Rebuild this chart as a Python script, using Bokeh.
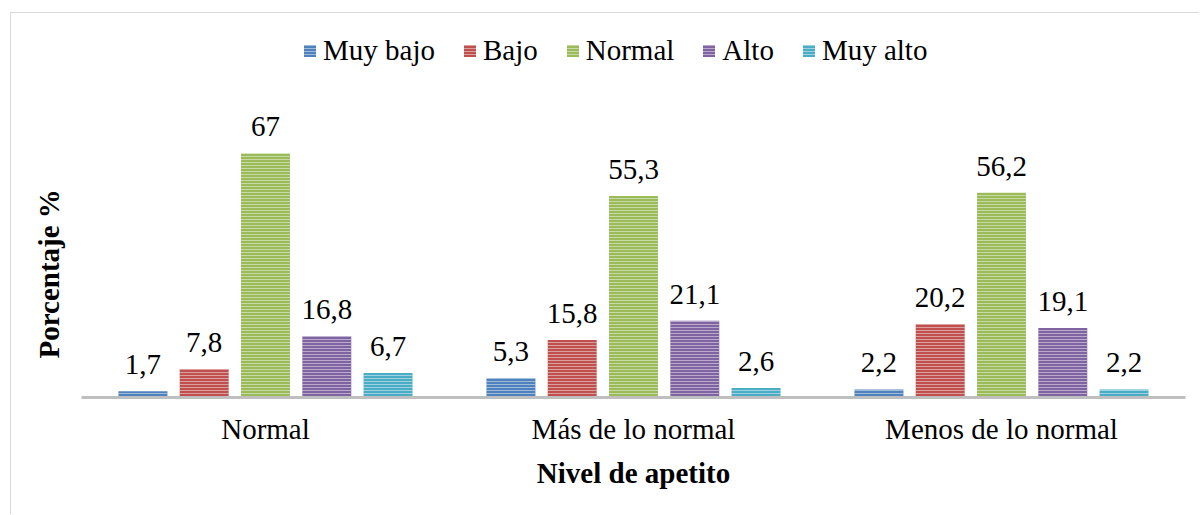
from bokeh.plotting import figure
from bokeh.models import (ColumnDataSource, FactorRange, Range1d, LabelSet, FixedTicker, Title)
from bokeh.transform import dodge
from bokeh.embed import file_html
from bokeh.resources import INLINE

# ---- data ----
categories = ["Normal", "Más de lo normal", "Menos de lo normal"]
series = ["Muy bajo", "Bajo", "Normal", "Alto", "Muy alto"]
muy_bajo = [1.7, 5.3, 2.2]
bajo = [7.8, 15.8, 20.2]
normal = [67, 55.3, 56.2]
alto = [16.8, 21.1, 19.1]
muy_alto = [6.7, 2.6, 2.2]
values = [muy_bajo, bajo, normal, alto, muy_alto]
colors = ["#4F81BD", "#C0504D", "#9BBB59", "#8064A2", "#4BACC6"]

FONT = "Liberation Serif"
FS = "29px"

p = figure(width=1189, height=502, x_range=FactorRange(factors=categories, range_padding=0),
           y_range=Range1d(0, 103.5), output_backend="svg", toolbar_location=None,
           min_border_left=70, min_border_right=15, min_border_top=7, min_border_bottom=118,
           margin=(12, 0, 0, 10),
           styles={"border-top": "1px solid #D9D9D9", "border-left": "1px solid #D9D9D9"})
p.outline_line_color = None
p.xgrid.grid_line_color = None
p.ygrid.grid_line_color = None
p.background_fill_color = "white"
p.border_fill_color = "white"

data = {"cat": categories}
for i, v in enumerate(values):
    data[f"v{i}"] = v
    data[f"t{i}"] = [f"{x:g}".replace(".", ",") for x in v]
src = ColumnDataSource(data)

offsets = [-0.333, -0.1666, 0.0, 0.1666, 0.333]
for i, name in enumerate(series):
    p.vbar(x=dodge("cat", offsets[i], range=p.x_range), top=f"v{i}", width=0.133,
           source=src, fill_color=colors[i], line_color=None,
           hatch_pattern="horizontal_line", hatch_color="white", hatch_alpha=0.45,
           hatch_scale=3, hatch_weight=1, legend_label=name)
    labels = LabelSet(x=dodge("cat", offsets[i], range=p.x_range), y=f"v{i}", text=f"t{i}",
                      source=src, text_align="center", text_baseline="alphabetic",
                      y_offset=17, text_font=FONT, text_font_size=FS, text_color="black")
    p.add_layout(labels)

# x axis
xa = p.xaxis[0]
xa.axis_line_color = "#BFBFBF"
xa.axis_line_width = 3
xa.major_tick_line_color = None
xa.minor_tick_line_color = None
xa.major_tick_out = 0
xa.major_label_standoff = 15
xa.major_label_text_font = FONT
xa.major_label_text_font_size = FS
xa.major_label_text_color = "black"
xa.axis_label = "Nivel de apetito"
xa.axis_label_text_font = FONT
xa.axis_label_text_font_size = FS
xa.axis_label_text_font_style = "bold"
xa.axis_label_text_color = "black"
xa.axis_label_standoff = 9

# y axis (invisible scale; its title is placed like the reference's)
ya = p.yaxis[0]
ya.ticker = FixedTicker(ticks=[])
ya.axis_line_color = None
ya.major_tick_line_color = None
ya.minor_tick_line_color = None
ya.major_tick_out = 0
ya.major_label_text_font_size = "0px"

ytitle = Title(text="Porcentaje %", align="left", vertical_align="bottom",
               offset=39, standoff=34, text_font=FONT, text_font_size=FS,
               text_font_style="bold", text_color="black")
p.add_layout(ytitle, "left")

# legend
lg = p.legend[0]
lg.orientation = "horizontal"
lg.location = (221, 330)
lg.label_text_font = FONT
lg.label_text_font_size = FS
lg.label_text_color = "black"
lg.glyph_width = 15
lg.glyph_height = 15
lg.label_standoff = 6
lg.spacing = 27
lg.padding = 0
lg.margin = 0
lg.border_line_color = None
lg.background_fill_alpha = 0

open("out.html", "w").write(file_html(p, INLINE))
